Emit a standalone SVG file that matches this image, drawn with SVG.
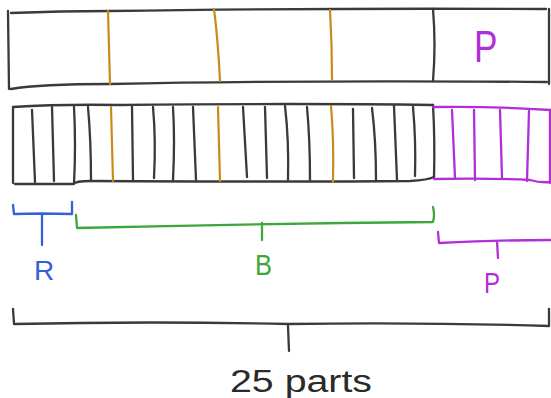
<svg xmlns="http://www.w3.org/2000/svg" width="551" height="398" viewBox="0 0 551 398">
<style>
.k{fill:none;stroke:#3a3a3a;stroke-width:2.3;stroke-linecap:round;stroke-linejoin:round}
.o{fill:none;stroke:#c98a1e;stroke-width:2.2;stroke-linecap:round}
.p{fill:none;stroke:#b12fd8;stroke-width:2.3;stroke-linecap:round;stroke-linejoin:round}
.g{fill:none;stroke:#3da63d;stroke-width:2.3;stroke-linecap:round;stroke-linejoin:round}
.b{fill:none;stroke:#3461d4;stroke-width:2.3;stroke-linecap:round;stroke-linejoin:round}
.t{font-family:"Liberation Sans",Arial,sans-serif;font-weight:normal}
</style>
<rect width="551" height="398" fill="#ffffff"/>
<g id="bar-top">
<path class="k" d="M11 13 Q60 11 110 11 Q300 8 546 9"/>
<path class="k" d="M8 11 L9 89"/>
<path class="k" d="M11 89 Q40 84 110 84 Q300 80 547 82"/>
<path class="k" d="M549 9 L549 84"/>
<path class="o" d="M108 11 L110 84"/>
<path class="o" d="M214 9 Q218 40 220 81"/>
<path class="o" d="M330 10 Q332 45 332 80"/>
<path class="k" d="M433 9 Q436 45 433 81"/>
<text class="t" x="474" y="62" font-size="44" fill="#b12fd8" transform="translate(474 0) scale(0.8 1) translate(-474 0)">P</text>
</g>
<g id="bar-parts">
<path class="k" d="M13 107 Q60 104 120 105 Q300 103 433 105"/>
<path class="k" d="M13 107 L13 183"/>
<path class="k" d="M15 184 L73 184 Q76 181 90 181 Q300 182 410 181 Q428 180 434 177"/>
<path class="k" d="M32 110 L35 182"/>
<path class="k" d="M52 107 L54 181"/>
<path class="k" d="M74 107 Q76 145 74 184"/>
<path class="k" d="M88 107 Q91 140 91 181"/>
<path class="o" d="M111 107 L113 181"/>
<path class="k" d="M132 107 L133 180"/>
<path class="k" d="M153 107 Q156 140 154 178"/>
<path class="k" d="M173 107 Q175 140 173 180"/>
<path class="k" d="M193 107 L196 180"/>
<path class="o" d="M218 107 L220 181"/>
<path class="k" d="M243 107 L247 177"/>
<path class="k" d="M265 107 L267 178"/>
<path class="k" d="M285 106 Q289 140 288 180"/>
<path class="k" d="M307 107 Q310 140 310 180"/>
<path class="o" d="M331 106 Q334 140 333 182"/>
<path class="k" d="M353 109 L354 178"/>
<path class="k" d="M372 108 Q376 140 376 180"/>
<path class="k" d="M394 106 L397 180"/>
<path class="k" d="M413 107 Q416 140 415 176"/>
<path class="k" d="M433 105 Q435 140 434 177"/>
<path class="p" d="M433 107 Q490 106 551 110"/>
<path class="p" d="M434 179 Q490 178 530 180 Q540 183 551 182"/>
<path class="p" d="M452 110 L455 178"/>
<path class="p" d="M474 110 L475 180"/>
<path class="p" d="M500 110 L502 178"/>
<path class="p" d="M529 111 L527 181"/>
<path class="p" d="M550 110 L550 183"/>
</g>
<g id="bracket-R">
<path class="b" d="M13 205 L14 214 Q40 213 72 214 M72 202 L72 214 M42 214 L42 245"/>
<text class="t" x="34" y="280" font-size="28" fill="#3461d4">R</text>
</g>
<g id="bracket-B">
<path class="g" d="M76 215 L77 228 Q250 224 433 222 Q435 215 433 207 M262 223 L262 240"/>
<text class="t" x="255" y="275" font-size="30" fill="#3da63d" transform="translate(255 0) scale(0.85 1) translate(-255 0)">B</text>
</g>
<g id="bracket-P">
<path class="p" d="M438 232 L439 243 Q500 240 551 240 M497 241 L498 258"/>
<text class="t" x="484" y="293" font-size="30" fill="#b12fd8" transform="translate(484 0) scale(0.8 1) translate(-484 0)">P</text>
</g>
<g id="bracket-total">
<path class="k" d="M13 309 L14 324 Q150 321 288 324 Q420 322 549 326 M549 309 L549 326 M288 326 L289 351"/>
<text class="t" x="230" y="392" font-size="31" fill="#2a2a2a" textLength="142" lengthAdjust="spacingAndGlyphs">25 parts</text>
</g>
</svg>
